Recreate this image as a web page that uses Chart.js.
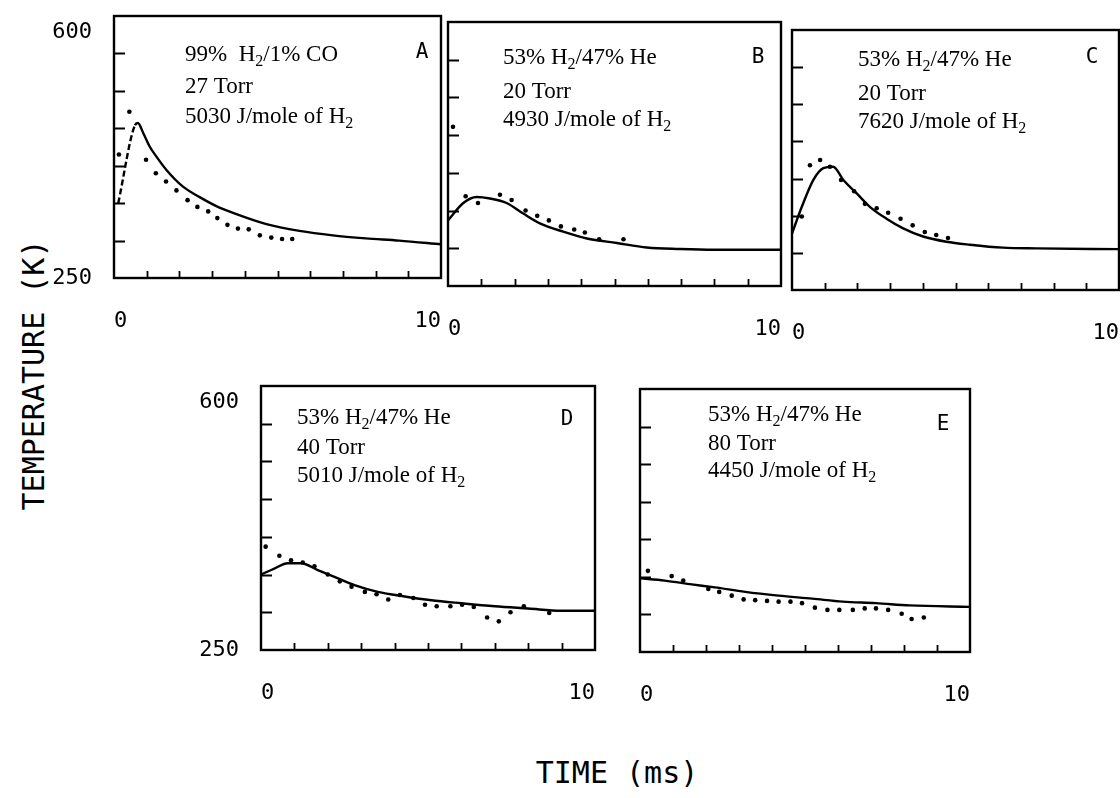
<!DOCTYPE html>
<html>
<head>
<meta charset="utf-8">
<script src="https://cdn.jsdelivr.net/npm/chart.js@4/dist/chart.umd.min.js"></script>
<style>
  body { margin: 0; background: #fff; width: 1120px; height: 798px; position: relative; overflow: hidden; }
  canvas { position: absolute; }
  .axis-title { position: absolute; font-family: "DejaVu Sans Mono", monospace; font-size: 30px; color: #000; white-space: nowrap; transform: translate(-50%, -50%); }
  #ytitle { left: 33px; top: 375px; transform: translate(-50%, -50%) rotate(-90deg); }
  #xtitle { left: 617px; top: 772px; }
</style>
</head>
<body>
<div class="axis-title" id="ytitle">TEMPERATURE (K)</div>
<div class="axis-title" id="xtitle">TIME (ms)</div>
<script>
// axis labels that are printed; every other tick stays blank
const timeLabelValues = [0, 10];
const tempLabelValues = [250, 600];

// panel captions
const panelLetters = ['A', 'B', 'C', 'D', 'E'];
const gasLines = ['99%  H_2/1% CO', '53% H_2/47% He', '53% H_2/47% He', '53% H_2/47% He', '53% H_2/47% He'];
const pressureLines = ['27 Torr', '20 Torr', '20 Torr', '40 Torr', '80 Torr'];
const energyLines = ['5030 J/mole of H_2', '4930 J/mole of H_2', '7620 J/mole of H_2', '5010 J/mole of H_2', '4450 J/mole of H_2'];

// A: 99% H2 / 1% CO, 27 Torr
const aModelTime = [0.13, 0.64, 0.73, 0.9, 1.1, 1.3, 1.61, 2.11, 2.62, 3.13, 3.64, 4.66, 5.67, 6.69, 7.7, 8.72, 10];
const aModelTemp = [350, 454, 457, 443, 425, 412, 394, 372, 358, 346, 337, 322, 313, 307, 303, 300, 295];
const aMeasTime = [0.15, 0.47, 0.98, 1.28, 1.59, 1.91, 2.25, 2.55, 2.88, 3.16, 3.47, 3.79, 4.12, 4.46, 4.81, 5.14, 5.45];
const aMeasTemp = [415, 472, 408, 390, 379, 367, 354, 345, 339, 330, 321, 316, 315, 307, 304, 302, 302];

// B: 53% H2 / 47% He, 20 Torr, 4930 J/mole
const bModelTime = [0, 0.46, 0.86, 1.26, 1.76, 2.26, 2.76, 3.46, 4.17, 5.07, 5.97, 6.97, 7.97, 10];
const bModelTemp = [337, 360, 368, 366, 360, 346, 333, 322, 313, 307, 301, 299, 298, 298];
const bMeasTime = [0.15, 0.53, 0.9, 1.56, 1.91, 2.33, 2.68, 3.03, 3.39, 3.79, 4.11, 4.54, 5.27];
const bMeasTemp = [461, 369, 360, 371, 364, 350, 343, 337, 329, 325, 321, 312, 312];

// C: 53% H2 / 47% He, 20 Torr, 7620 J/mole
const cModelTime = [0, 0.3, 0.65, 0.96, 1.26, 1.57, 1.98, 2.38, 2.89, 3.4, 4.01, 4.72, 5.44, 6.45, 7.47, 10];
const cModelTemp = [326, 362, 398, 414, 416, 398, 380, 362, 346, 333, 322, 315, 311, 307, 306, 305];
const cMeasTime = [0.3, 0.55, 0.86, 1.16, 1.5, 1.9, 2.23, 2.59, 2.94, 3.32, 3.69, 4.06, 4.41, 4.77];
const cMeasTemp = [349, 418, 425, 416, 398, 383, 366, 360, 354, 346, 337, 328, 324, 320];

// D: 53% H2 / 47% He, 40 Torr
const dModelTime = [0, 0.4, 0.8, 1.2, 1.7, 2.2, 2.8, 3.5, 4.3, 5.1, 6.0, 7.0, 8.0, 9.0, 10];
const dModelTemp = [350, 358, 365, 365, 356, 347, 336, 327, 321, 316, 312, 308, 305, 302, 302];
const dMeasTime = [0.14, 0.55, 0.9, 1.25, 1.6, 2.0, 2.36, 2.71, 3.11, 3.46, 3.81, 4.16, 4.56, 4.91, 5.26, 5.67, 6.02, 6.37, 6.77, 7.12, 7.47, 7.87, 8.63];
const dMeasTemp = [387, 375, 369, 366, 361, 350, 341, 334, 327, 324, 317, 323, 319, 310, 308, 308, 310, 307, 293, 288, 300, 308, 299];

// E: 53% H2 / 47% He, 80 Torr
const eModelTime = [0, 0.75, 1.57, 2.27, 3.19, 4.2, 5.22, 6.14, 7.15, 8.17, 10];
const eModelTemp = [348, 345, 340, 336, 330, 325, 321, 317, 315, 312, 310];
const eMeasTime = [0.24, 0.96, 1.31, 2.07, 2.4, 2.78, 3.14, 3.49, 3.85, 4.2, 4.56, 4.91, 5.3, 5.68, 6.04, 6.45, 6.81, 7.15, 7.52, 7.93, 8.23, 8.6];
const eMeasTemp = [358, 351, 345, 334, 330, 325, 320, 319, 318, 317, 317, 315, 309, 306, 306, 306, 308, 308, 306, 301, 294, 296];

// page layout of each plot box (px) and where its caption sits inside it
const PAD_L = 80, PAD_T = 20, PAD_R = 12, PAD_B = 60;
const frames = [
  { l: 114, t: 16, r: 441, b: 278, yLabels: true,  textX: 71, textY: [39, 71, 101], letter: [308, 37], dashTo: 0.7 },
  { l: 448, t: 22, r: 781, b: 286, yLabels: false, textX: 55, textY: [36, 70, 98],  letter: [310, 36], dashTo: -1 },
  { l: 792, t: 30, r: 1119, b: 290, yLabels: false, textX: 66, textY: [30, 64, 92], letter: [300, 28], dashTo: -1 },
  { l: 261, t: 386, r: 595, b: 650, yLabels: true,  textX: 36, textY: [32, 62, 90],  letter: [306, 34], dashTo: -1 },
  { l: 640, t: 389, r: 970, b: 652, yLabels: false, textX: 68, textY: [26, 55, 82],  letter: [303, 36], dashTo: -1 }
];

const series = [
  [aModelTime, aModelTemp, aMeasTime, aMeasTemp],
  [bModelTime, bModelTemp, bMeasTime, bMeasTemp],
  [cModelTime, cModelTemp, cMeasTime, cMeasTemp],
  [dModelTime, dModelTemp, dMeasTime, dMeasTemp],
  [eModelTime, eModelTemp, eMeasTime, eMeasTemp]
];

Chart.defaults.font.family = '"DejaVu Sans Mono", monospace';
Chart.defaults.color = '#000';

const zip = (xs, ys) => xs.map((x, i) => ({ x: x, y: ys[i] }));

// text with "_2" style subscripts
function drawRich(ctx, str, x, y, size) {
  str.split(/_(\d)/).forEach((part, i) => {
    const sub = i % 2 === 1;
    ctx.font = (sub ? Math.round(size * 0.68) : size) + 'px "Liberation Serif", serif';
    ctx.fillText(part, x, sub ? y + size * 0.3 : y);
    x += ctx.measureText(part).width;
  });
}

// box frame, inward tick marks and the caption block
const panelFrame = {
  id: 'panelFrame',
  afterDatasetsDraw(chart, args, opts) {
    const { ctx, chartArea: a, scales: { x, y } } = chart;
    ctx.save();
    ctx.strokeStyle = '#000';
    ctx.lineWidth = 2.4;
    ctx.strokeRect(a.left, a.top, a.right - a.left, a.bottom - a.top);

    ctx.lineWidth = 1.8;
    ctx.beginPath();
    x.ticks.forEach(t => {
      if (t.value <= x.min || t.value >= x.max) return;
      const px = Math.round(x.getPixelForValue(t.value)) + 0.5;
      ctx.moveTo(px, a.bottom);
      ctx.lineTo(px, a.bottom - 7);
    });
    y.ticks.forEach(t => {
      if (t.value <= y.min || t.value >= y.max) return;
      const py = Math.round(y.getPixelForValue(t.value)) + 0.5;
      ctx.moveTo(a.left, py);
      ctx.lineTo(a.left + 11, py);
    });
    ctx.stroke();

    ctx.fillStyle = '#000';
    ctx.textBaseline = 'middle';
    ctx.textAlign = 'left';
    opts.lines.forEach((line, i) => {
      drawRich(ctx, line, a.left + opts.textX, a.top + opts.textY[i], 23);
    });
    ctx.textAlign = 'center';
    ctx.font = '21px "DejaVu Sans Mono", monospace';
    ctx.fillText(opts.letter, a.left + opts.letterPos[0], a.top + opts.letterPos[1]);
    ctx.restore();
  }
};

function buildPanel(i) {
  const f = frames[i];
  const [mt, mk, st, sk] = series[i];
  const canvas = document.createElement('canvas');
  canvas.width = f.r - f.l + PAD_L + PAD_R;
  canvas.height = f.b - f.t + PAD_T + PAD_B;
  canvas.style.left = (f.l - PAD_L) + 'px';
  canvas.style.top = (f.t - PAD_T) + 'px';
  document.body.appendChild(canvas);

  const clearPadding = s => { s.paddingTop = 0; s.paddingBottom = 0; s.paddingLeft = 0; s.paddingRight = 0; };

  new Chart(canvas, {
    type: 'line',
    data: {
      datasets: [
        {
          label: 'calculated',
          data: zip(mt, mk),
          borderColor: '#000',
          borderWidth: 2.4,
          pointRadius: 0,
          cubicInterpolationMode: 'monotone',
          segment: { borderDash: c => (c.p1.parsed.x <= f.dashTo ? [6, 3] : undefined) }
        },
        {
          label: 'measured',
          data: zip(st, sk),
          showLine: false,
          pointRadius: 2.3,
          pointBorderWidth: 0,
          pointBackgroundColor: '#000'
        }
      ]
    },
    options: {
      responsive: false,
      animation: false,
      devicePixelRatio: 1,
      layout: { padding: { left: 0, top: PAD_T, right: PAD_R, bottom: 0 } },
      plugins: {
        legend: { display: false },
        tooltip: { enabled: false },
        panelFrame: {
          lines: [gasLines[i], pressureLines[i], energyLines[i]],
          textX: f.textX,
          textY: f.textY,
          letter: panelLetters[i],
          letterPos: f.letter
        }
      },
      scales: {
        x: {
          type: 'linear',
          min: 0,
          max: 10,
          grid: { display: false },
          border: { display: false },
          ticks: {
            stepSize: 1,
            autoSkip: false,
            maxRotation: 0,
            align: 'inner',
            padding: 22,
            font: { size: 22 },
            callback: v => (timeLabelValues.includes(v) ? String(v) : '')
          },
          afterFit: s => { s.height = PAD_B; clearPadding(s); }
        },
        y: {
          type: 'linear',
          min: 250,
          max: 600,
          grid: { display: false },
          border: { display: false },
          ticks: {
            display: f.yLabels,
            stepSize: 50,
            autoSkip: false,
            padding: 14,
            font: { size: 22, lineHeight: 1.45 },
            callback: v => {
              if (v === tempLabelValues[1]) return ['', String(v)];
              if (v === tempLabelValues[0]) return String(v);
              return '';
            }
          },
          afterFit: s => { s.width = PAD_L; clearPadding(s); }
        }
      }
    },
    plugins: [panelFrame]
  });
}

frames.forEach((f, i) => buildPanel(i));
</script>
</body>
</html>
